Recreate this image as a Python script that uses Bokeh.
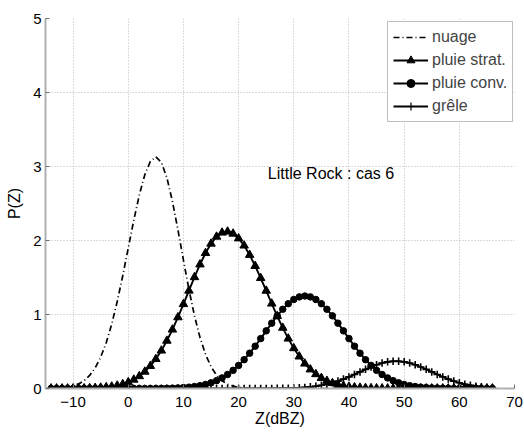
from bokeh.plotting import figure
from bokeh.models import FixedTicker, Label, Range1d
from bokeh.embed import file_html
from bokeh.resources import INLINE

# Z (dBZ) sample positions
z = list(range(-14, 67))

nuage = [0.002, 0.005, 0.010, 0.019, 0.035, 0.062, 0.107, 0.176, 0.278, 0.424,
         0.619, 0.870, 1.175, 1.524, 1.898, 2.273, 2.615, 2.889, 3.068, 3.130,
         3.057, 2.848, 2.530, 2.145, 1.734, 1.337, 0.983, 0.690, 0.462, 0.295,
         0.179, 0.104, 0.058, 0.031, 0.015, 0.007, 0.003, 0.001,
         0, 0, 0, 0, 0, 0, 0, 0, 0, 0,
         0, 0, 0, 0, 0, 0, 0, 0, 0, 0,
         0, 0, 0, 0, 0, 0, 0, 0, 0, 0,
         0, 0, 0, 0, 0, 0, 0, 0, 0, 0,
         0, 0, 0]

strat = [0.000, 0.000, 0.000, 0.000, 0.001, 0.001, 0.002, 0.004, 0.007, 0.011,
         0.017, 0.026, 0.039, 0.058, 0.084, 0.119, 0.166, 0.227, 0.304, 0.398,
         0.512, 0.645, 0.796, 0.962, 1.140, 1.322, 1.504, 1.676, 1.830, 1.957,
         2.051, 2.106, 2.120, 2.092, 2.028, 1.931, 1.805, 1.656, 1.492, 1.321,
         1.147, 0.979, 0.820, 0.674, 0.544, 0.432, 0.336, 0.257, 0.193, 0.142,
         0.103, 0.073, 0.051, 0.035, 0.023, 0.016, 0.010, 0.006, 0.004, 0.002,
         0.001,
         0, 0, 0, 0, 0, 0, 0, 0, 0, 0,
         0, 0, 0, 0, 0, 0, 0, 0, 0, 0]

conv = [0, 0, 0, 0, 0, 0, 0, 0, 0, 0,
        0, 0, 0, 0, 0, 0, 0, 0, 0,
        0.001, 0.002, 0.003, 0.005, 0.008, 0.012, 0.018, 0.026, 0.038, 0.055,
        0.077, 0.106, 0.143, 0.189, 0.245, 0.312, 0.389, 0.477, 0.572, 0.674,
        0.779, 0.883, 0.982, 1.071, 1.146, 1.203, 1.238, 1.250, 1.238, 1.203,
        1.146, 1.071, 0.982, 0.883, 0.779, 0.674, 0.572, 0.477, 0.389, 0.312,
        0.245, 0.189, 0.143, 0.106, 0.077, 0.055, 0.038, 0.026, 0.018, 0.012,
        0.008, 0.005, 0.003, 0.002, 0.001,
        0, 0, 0, 0, 0, 0, 0]

grele = [0, 0, 0, 0, 0, 0, 0, 0, 0, 0,
         0, 0, 0, 0, 0, 0, 0, 0, 0, 0,
         0, 0, 0, 0, 0, 0, 0, 0, 0, 0,
         0, 0, 0, 0, 0, 0, 0, 0, 0, 0,
         0.001, 0.002, 0.003, 0.004, 0.006, 0.010, 0.015, 0.022, 0.031, 0.043,
         0.058, 0.077, 0.100, 0.127, 0.157, 0.190, 0.224, 0.259, 0.291, 0.320,
         0.344, 0.360, 0.369, 0.369, 0.360, 0.344, 0.320, 0.291, 0.259, 0.224,
         0.190, 0.157, 0.127, 0.100, 0.077, 0.058, 0.043, 0.031, 0.022, 0.015,
         0.010]

x_ticks = [-10, 0, 10, 20, 30, 40, 50, 60, 70]
y_ticks = [0, 1, 2, 3, 4, 5]

FONT = "Liberation Sans"
NAN = [float("nan")]  # legend-only glyph placeholder (draws nothing in the plot)

p = figure(width=524, height=435, output_backend="svg", toolbar_location=None,
           x_range=Range1d(-15, 70), y_range=Range1d(0, 5),
           min_border_left=45, min_border_right=10, min_border_top=18,
           min_border_bottom=47)
p.outline_line_color = None
p.background_fill_color = "white"
p.border_fill_color = "white"

for ax in (p.xaxis[0], p.yaxis[0]):
    ax.axis_line_color = "#b0b0b0"
    ax.axis_line_width = 2
    ax.major_tick_in = 4
    ax.major_tick_out = 0
    ax.major_tick_line_color = "#707070"
    ax.minor_tick_line_color = None
    ax.major_label_text_font = FONT
    ax.major_label_text_font_size = "15px"
    ax.major_label_text_color = "black"
    ax.axis_label_text_font = FONT
    ax.axis_label_text_font_size = "16px"
    ax.axis_label_text_font_style = "normal"
    ax.axis_label_text_color = "black"

p.xaxis.ticker = FixedTicker(ticks=x_ticks)
p.yaxis.ticker = FixedTicker(ticks=y_ticks)
p.xaxis.axis_label = "Z(dBZ)"
p.yaxis.axis_label = "P(Z)"
p.xaxis.major_label_standoff = 8
p.yaxis.major_label_standoff = 4
p.xaxis.axis_label_standoff = 0
p.yaxis.axis_label_standoff = 7

for g in (p.xgrid[0], p.ygrid[0]):
    g.grid_line_color = "#b8b8b8"
    g.grid_line_dash = "1 2"
    g.grid_line_width = 1

# nuage
p.line(z, nuage, line_color="black", line_width=1.7, line_dash="6 3 1 3",
       legend_label="nuage")

# pluie stratiforme
p.line(z, strat, line_color="black", line_width=1.9, legend_label="pluie strat.")
p.scatter(z, strat, marker="triangle", size=8.5, fill_color="black",
          line_color="black")
p.scatter(NAN, NAN, marker="triangle", size=6, fill_color="black",
          line_color="black", legend_label="pluie strat.")

# pluie convective
p.line(z, conv, line_color="black", line_width=1.9, legend_label="pluie conv.")
p.scatter(z, conv, marker="circle", size=6.5, fill_color="black",
          line_color="black")
p.scatter(NAN, NAN, marker="circle", size=4, fill_color="black",
          line_color="black", legend_label="pluie conv.")

# grêle
p.line(z, grele, line_color="black", line_width=1.9, legend_label="grêle")
p.scatter(z, grele, marker="cross", size=7.5, line_color="black",
          line_width=1.6)
p.scatter(NAN, NAN, marker="cross", size=5, line_color="black",
          line_width=1.2, legend_label="grêle")

p.add_layout(Label(x=25.3, y=2.905, text="Little Rock : cas 6",
                   text_font=FONT, text_font_size="16px",
                   text_baseline="alphabetic", text_color="black"))

lg = p.legend[0]
lg.location = (342, 266)
lg.margin = 0
lg.padding = 5
lg.spacing = 3
lg.glyph_width = 35
lg.glyph_height = 20
lg.label_height = 20
lg.label_standoff = 4
lg.label_text_font = FONT
lg.label_text_font_size = "16px"
lg.border_line_color = "#808080"
lg.border_line_width = 1
lg.background_fill_color = "white"
lg.background_fill_alpha = 1.0

open("out.html", "w").write(file_html(p, INLINE))
